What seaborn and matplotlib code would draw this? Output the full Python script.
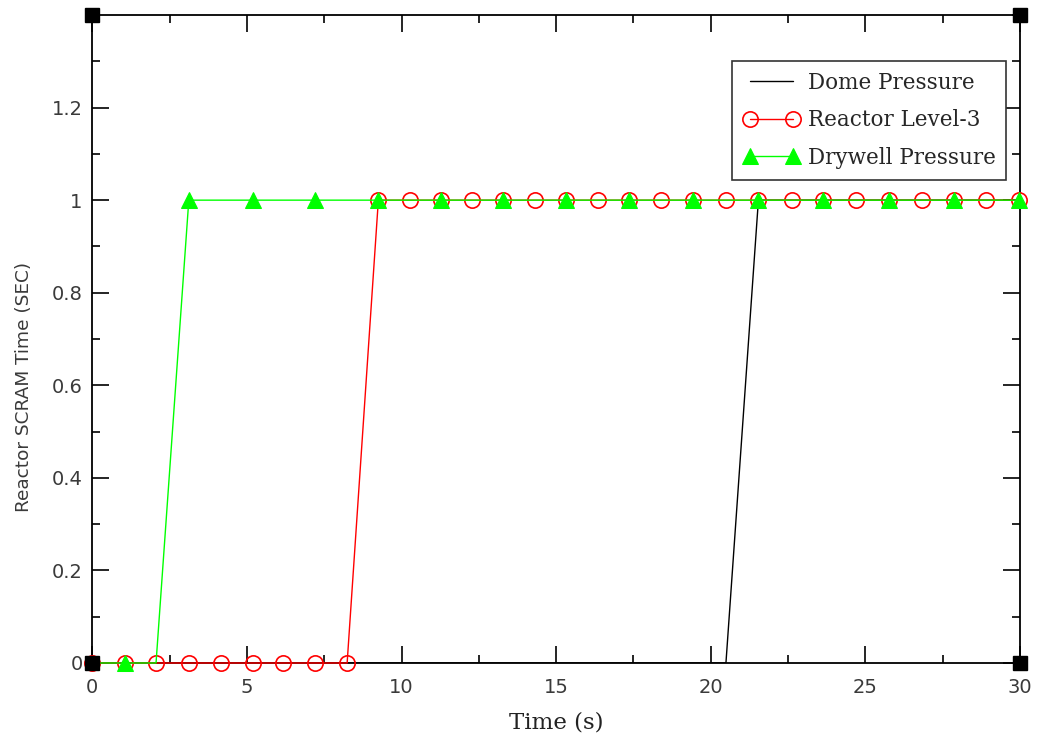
import numpy as np
import pandas as pd
import matplotlib
matplotlib.use("Agg")
import matplotlib.pyplot as plt
from matplotlib.ticker import MultipleLocator, FormatStrFormatter, FixedLocator
import seaborn as sns

# ---- data ----
time_s = [0.0, 1.06, 2.06, 3.12, 4.16, 5.18, 6.18, 7.20, 8.24, 9.25,
          10.27, 11.27, 12.27, 13.29, 14.30, 15.32, 16.34, 17.34, 18.39, 19.44,
          20.49, 21.54, 22.62, 23.64, 24.70, 25.77, 26.82, 27.87, 28.91, 29.98]
dome_pressure = [0]*21 + [1]*9
reactor_level3 = [0]*9 + [1]*21
drywell_pressure = [0]*3 + [1]*27
corner_x = [0, 30, 0, 30]
corner_y = [0, 0, 1.4, 1.4]
series_names = ["Dome Pressure", "Reactor Level-3", "Drywell Pressure"]

sns.set_style("ticks")
plt.rcParams["font.family"] = ["DejaVu Sans"]

fig = plt.figure(figsize=(10.48, 7.51), dpi=100)
ax = fig.add_axes([0.0881, 0.1172, 0.9733 - 0.0881, 0.98 - 0.1172])

df = pd.DataFrame({"t": time_s, "dome": dome_pressure,
                   "lvl": reactor_level3, "dry": drywell_pressure})

sns.lineplot(data=df, x="t", y="dome", ax=ax, color="black", linewidth=1.0,
             label=series_names[0], zorder=3, estimator=None, sort=False)
sns.lineplot(data=df, x="t", y="lvl", ax=ax, color="#ff0000", linewidth=1.0,
             marker="o", markersize=11, markerfacecolor="none",
             markeredgecolor="#ff0000", markeredgewidth=1.2,
             label=series_names[1], zorder=4, estimator=None, sort=False,
             clip_on=False)
sns.lineplot(data=df, x="t", y="dry", ax=ax, color="#00ff00", linewidth=1.0,
             marker="^", markersize=11, markerfacecolor="#00ff00",
             markeredgecolor="#00ff00", markevery=(1, 2),
             label=series_names[2], zorder=5, estimator=None, sort=False,
             clip_on=False)
ax.plot(corner_x, corner_y, linestyle="none", marker="s", markersize=10,
        color="black", zorder=6, clip_on=False)

ax.set_xlim(0, 30)
ax.set_ylim(0, 1.4)
ax.xaxis.set_major_locator(MultipleLocator(5))
ax.xaxis.set_minor_locator(MultipleLocator(2.5))
ax.yaxis.set_major_locator(FixedLocator([0, 0.2, 0.4, 0.6, 0.8, 1.0, 1.2]))
ax.yaxis.set_minor_locator(MultipleLocator(0.1))
ax.yaxis.set_major_formatter(FormatStrFormatter("%g"))
ax.xaxis.set_major_formatter(FormatStrFormatter("%g"))

ax.tick_params(which="both", direction="in", top=True, right=True,
               colors="black", width=1.2, labelcolor="#3a3a3a", labelsize=14)
ax.tick_params(which="major", length=12)
ax.tick_params(which="minor", length=6)
ax.tick_params(axis="x", which="major", pad=11)
ax.tick_params(axis="y", which="major", pad=7)
for sp in ax.spines.values():
    sp.set_visible(True)
    sp.set_linewidth(1.3)
    sp.set_color("black")

ax.set_xlabel("Time (s)", family="DejaVu Serif", fontsize=16.5, color="#222222", labelpad=10)
ax.set_ylabel("Reactor SCRAM Time (SEC)", fontsize=13.3, color="#3a3a3a")
ax.yaxis.set_label_coords(-0.064, 0.426)

leg = ax.legend(loc="upper left", bbox_to_anchor=(0.69, 0.929), numpoints=2,
                handlelength=2.6, fancybox=False, frameon=True, framealpha=1,
                edgecolor="#333333", prop={"family": "DejaVu Serif", "size": 15.5},
                borderpad=0.5, labelspacing=0.72, handletextpad=0.4,
                borderaxespad=0)
leg.get_frame().set_linewidth(1.2)

fig.savefig("out.png", dpi=100, facecolor="white")
